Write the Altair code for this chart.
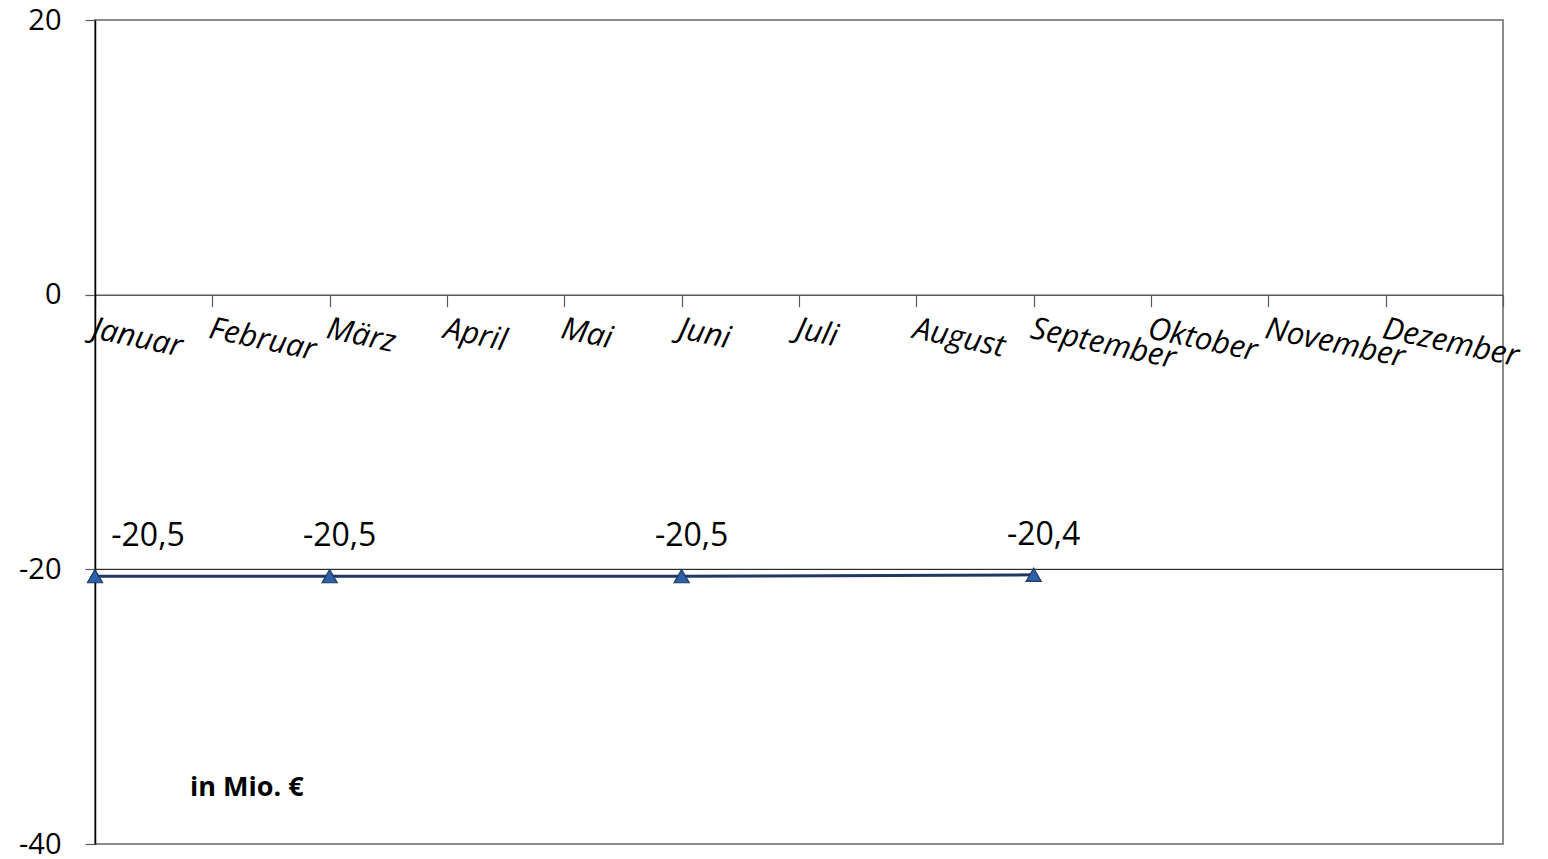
import altair as alt
import pandas as pd

months = ["Januar", "Februar", "März", "April", "Mai", "Juni", "Juli",
          "August", "September", "Oktober", "November", "Dezember"]
point_months = ["Januar", "März", "Juni", "September"]
point_values = [-20.5, -20.5, -20.5, -20.4]
y_ticks = [20, 0, -20, -40]
unit_label = "in Mio. €"

df = pd.DataFrame({
    "month": point_months,
    "idx": [months.index(m) for m in point_months],
    "value": point_values,
})

label_expr = "datum.value < 12 ? " + str(months).replace("'", '"') + "[datum.value] : ''"

FONT = "Open Sans"

x_scale = alt.Scale(domain=[0, 12], nice=False, zero=False)
y_scale = alt.Scale(domain=[-40, 20], nice=False)

x_axis = alt.Axis(
    values=list(range(13)), labelExpr=label_expr, title=None,
    offset=-549.3, domainColor="#5a5a5a", domainWidth=1.5,
    tickColor="#5a5a5a", tickSize=12, tickWidth=1.2,
    labelAngle=12, labelAlign="left", labelBaseline="top",
    labelFont=FONT, labelFontStyle="italic", labelFontSize=31,
    labelColor="black", labelPadding=7, labelOverlap=False, labelFlush=False,
    grid=False)
y_axis = alt.Axis(
    values=y_ticks, title=None, grid=False,
    labelExpr="replace(datum.label, '\u2212', '-')",
    domainColor="black", domainWidth=1.5,
    tickColor="#5a5a5a", tickSize=10, tickWidth=1.2,
    labelFont=FONT, labelFontSize=29, labelColor="black", labelPadding=24,
    labelFlush=False, labelOverlap=False)

x_enc = alt.X("idx:Q", scale=x_scale, axis=x_axis)
y_enc = alt.Y("value:Q", scale=y_scale, axis=y_axis)

base = alt.Chart(df)

grid = alt.Chart(pd.DataFrame({"value": [-20]})).mark_rule(color="black", strokeWidth=1).encode(
    y=y_enc)

line = base.mark_line(color="#1F3864", strokeWidth=3).encode(x=x_enc, y=y_enc)
pts = base.mark_point(shape="triangle-up", filled=True, size=230, fill="#2E62A8",
                      stroke="#1F3864", strokeWidth=1.2, opacity=1).encode(
    x=x_enc, y=y_enc)

lbl_expr = "replace(replace(format(datum.value, '.1f'), '.', ','), '\u2212', '-')"
labels_first = base.transform_filter("datum.idx == 0").transform_calculate(
    lbl=lbl_expr).mark_text(font=FONT, fontSize=32, color="black", dx=53, dy=-40).encode(
    x=x_enc, y=y_enc, text="lbl:N")
labels_rest = base.transform_filter("datum.idx > 0").transform_calculate(
    lbl=lbl_expr).mark_text(font=FONT, fontSize=32, color="black", dx=10, dy=-40).encode(
    x=x_enc, y=y_enc, text="lbl:N")

unit = alt.Chart(pd.DataFrame({"t": [unit_label]})).mark_text(
    font=FONT, fontSize=27, fontWeight="bold", color="black", align="left").encode(
    x=alt.value(95), y=alt.value(768), text="t:N")

chart = alt.layer(grid, line, pts, labels_first, labels_rest, unit).properties(
    width=1408, height=824,
    autosize=alt.AutoSizeParams(type="none"),
    padding={"left": 87, "top": 12, "right": 37, "bottom": 15},
    background="white",
).configure_view(stroke="#8c8c8c", strokeWidth=2)

chart.save("out.html", embed_options={"renderer": "svg", "actions": False})
